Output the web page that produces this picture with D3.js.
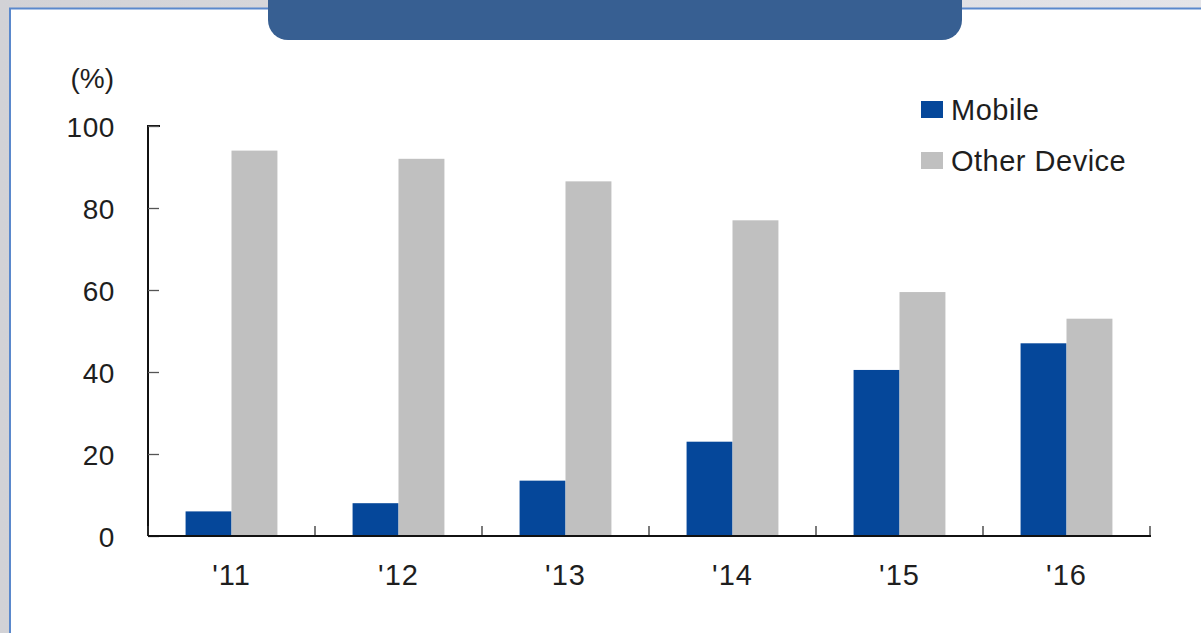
<!DOCTYPE html>
<html>
<head>
<meta charset="utf-8">
<script src="https://cdn.jsdelivr.net/npm/d3@7"></script>
<style>
  body{margin:0;padding:0;background:#d7d7db;}
  svg{display:block;}
  text{font-family:"Liberation Sans",Arial,sans-serif;fill:#1e1e1e;}
</style>
</head>
<body>
<div id="chart"></div>
<script>
// data
var years=["'11","'12","'13","'14","'15","'16"];
var series=["Mobile","Other Device"];
var mobile=[6,8,13.5,23,40.5,47];
var other=[94,92,86.5,77,59.5,53];
var yTicks=[0,20,40,60,80,100];
var colors=["#05479a","#c0c0c0"];

var W=1201,H=633;
var margin={top:126,left:148,right:51,bottom:97};
var plotW=W-margin.left-margin.right,
    plotH=H-margin.top-margin.bottom;

var svg=d3.select("#chart").append("svg")
    .attr("width",W)
    .attr("height",H);

// page background + framed white panel
var grad=svg.append("defs").append("linearGradient")
    .attr("id","bg").attr("x1","0%").attr("y1","0%").attr("x2","100%").attr("y2","0%");
grad.append("stop").attr("offset","0%").attr("stop-color","#d2d2d6");
grad.append("stop").attr("offset","100%").attr("stop-color","#e4e4e8");
svg.append("rect").attr("width",W).attr("height",H).style("fill","url(#bg)");
svg.append("rect")
    .attr("x",10).attr("y",8.5)
    .attr("width",W+20).attr("height",H+20)
    .style("fill","#fff")
    .style("stroke","#5a88cc")
    .style("stroke-width",2);

// title tab at the top (no text in it)
svg.append("rect")
    .attr("x",268).attr("y",-30)
    .attr("width",694).attr("height",70)
    .attr("rx",20).attr("ry",20)
    .style("fill","#375f92");

var g=svg.append("g").attr("transform","translate("+margin.left+","+margin.top+")");

var x0=d3.scaleBand().domain(years).range([0,plotW]).paddingInner(0.45).paddingOuter(0.225);
var x1=d3.scaleBand().domain(series).range([0,x0.bandwidth()]);
var y=d3.scaleLinear().domain([0,100]).range([plotH,0]);

var rows=years.map(function(d,i){return {year:d,values:[mobile[i],other[i]]};});

var grp=g.selectAll(".year").data(rows).enter().append("g")
    .attr("class","year")
    .attr("transform",function(d){return "translate("+x0(d.year)+",0)";});
grp.selectAll("rect").data(function(d){return d.values;}).enter().append("rect")
    .attr("x",function(d,i){return x1(series[i]);})
    .attr("y",function(d){return y(d);})
    .attr("width",x1.bandwidth())
    .attr("height",function(d){return plotH-y(d);})
    .style("fill",function(d,i){return colors[i];});

// y axis, ticks pointing inward
var yAxis=d3.axisRight(y).tickValues(yTicks).tickSize(11).tickFormat(d3.format("d"));
var ya=g.append("g").call(yAxis);
ya.select(".domain").attr("d","M0,"+plotH+"V0H12").style("stroke","#111").style("stroke-width",2);
ya.selectAll(".tick line").style("stroke","#555").style("stroke-width",1.3);
ya.selectAll(".tick text")
    .attr("x",-33).attr("dy","0.36em")
    .style("text-anchor","end")
    .style("font-size","28px")
    .style("letter-spacing","0.6px")
    .style("fill","#1e1e1e");

// x axis: boundary ticks pointing up
var step=x0.step();
var bounds=d3.range(years.length+1).map(function(i){return i*step;});
g.append("g").selectAll("line").data(bounds).enter().append("line")
    .attr("x1",function(d){return d;}).attr("x2",function(d){return d;})
    .attr("y1",plotH).attr("y2",plotH-10)
    .style("stroke","#333").style("stroke-width",1.3);
g.append("line")
    .attr("x1",0).attr("x2",plotW+1)
    .attr("y1",plotH).attr("y2",plotH)
    .style("stroke","#111").style("stroke-width",2);
g.append("g").selectAll("text").data(years).enter().append("text")
    .attr("x",function(d){return x0(d)+x0.bandwidth()/2;})
    .attr("y",plotH+49)
    .style("text-anchor","middle")
    .style("font-size","29px")
    .style("letter-spacing","1px")
    .text(function(d){return d;});

// unit label
svg.append("text")
    .attr("x",114).attr("y",88)
    .style("text-anchor","end")
    .style("font-size","28px")
    .text("(%)");

// legend
var leg=svg.append("g").attr("transform","translate(921,101)");
var li=leg.selectAll("g").data(series).enter().append("g")
    .attr("transform",function(d,i){return "translate(0,"+(i*51)+")";});
li.append("rect").attr("width",22).attr("height",17)
    .style("fill",function(d,i){return colors[i];});
li.append("text").attr("x",30).attr("y",19)
    .style("font-size","29px")
    .style("letter-spacing","0.5px")
    .text(function(d){return d;});
</script>
</body>
</html>
